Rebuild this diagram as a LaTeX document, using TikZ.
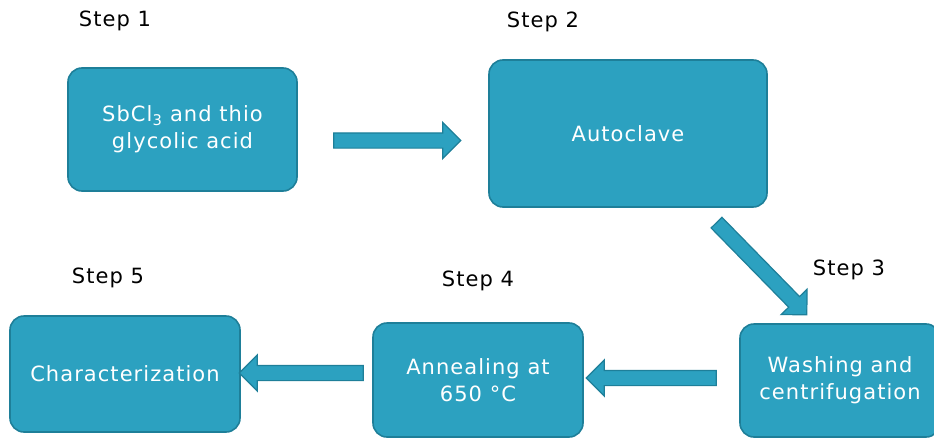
\documentclass[tikz,border=0pt]{standalone}
\usepackage{fontspec}
\setmainfont{DejaVu Sans}[LetterSpace=5]
\usetikzlibrary{shapes.arrows}
\definecolor{boxfill}{HTML}{2CA1C0}
\definecolor{boxline}{HTML}{1E7F99}
\tikzset{
  x=1pt, y=-1pt,
  stepbox/.style={draw=boxline, line width=1.6pt, fill=boxfill, rounded corners=14pt,
    text=white, align=center, font=\fontsize{21}{27}\selectfont, inner sep=0pt},
  steplabel/.style={font=\fontsize{21}{22}\selectfont, text=black},
  blockarrow/.style={single arrow, draw=boxline, line width=1.2pt, fill=boxfill,
    inner xsep=0pt, inner ysep=7pt, minimum width=0pt, single arrow head extend=10.5pt,
    single arrow head indent=0pt, anchor=center}
}
\begin{document}
\begin{tikzpicture}
\useasboundingbox (0,0) rectangle (934,439);
% boxes
\node[stepbox, minimum width=229pt, minimum height=123pt] (b1) at (182.5,129.5) {SbCl\textsubscript{3} and thio\\glycolic acid};
\node[stepbox, minimum width=278pt, minimum height=147pt] (b2) at (628,133.5) {Autoclave};
\node[stepbox, minimum width=200pt, minimum height=113pt] (b3) at (840,380.5) {Washing and\\centrifugation};
\node[stepbox, minimum width=210pt, minimum height=114pt] (b4) at (478,380) {Annealing at\\650 °C};
\node[stepbox, minimum width=230pt, minimum height=116pt] (b5) at (125,374) {Characterization};
% labels
\node[steplabel] (s1) at (115,21) {Step 1};
\node[steplabel] (s2) at (543,22) {Step 2};
\node[steplabel] (s3) at (849,270) {Step 3};
\node[steplabel] (s4) at (478,281) {Step 4};
\node[steplabel] (s5) at (108,278) {Step 5};
% arrows
\node[blockarrow, minimum height=127pt] (a1) at (393.5,140.5) {};
\node[blockarrow, minimum height=129pt, rotate=-45.6] (a2) at (759,266) {};
\node[blockarrow, minimum height=130pt, shape border rotate=180] (a3) at (655,378) {};
\node[blockarrow, minimum height=124pt, shape border rotate=180] (a4) at (305,373) {};
\end{tikzpicture}
\end{document}
